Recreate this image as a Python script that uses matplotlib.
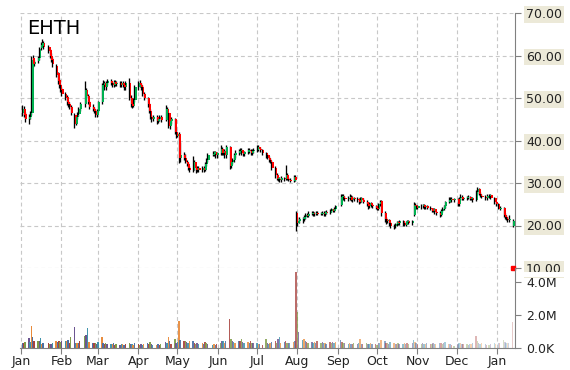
import numpy as np
import pandas as pd
import matplotlib
matplotlib.use("Agg")
import matplotlib.pyplot as plt
import matplotlib.dates as mdates
from matplotlib.colors import to_rgba
from matplotlib.patches import Rectangle

ticker = "EHTH"
holidays = ["2019-01-21", "2019-02-18", "2019-04-19", "2019-05-27", "2019-07-04",
            "2019-09-02", "2019-11-28", "2019-12-25", "2020-01-01"]

# daily prices, one row per week
open_ = [46.5, 47.5, 46.2,
         45.0, 45.5, 46.5, 59.5, 58.0,
         58.8, 59.5, 61.8, 62.3, 63.0,
         62.0, 61.2, 60.0, 59.2,
         57.5, 55.8, 54.2, 53.0, 52.2,
         51.0, 50.2, 49.0, 48.6, 48.0,
         46.0, 44.0, 45.5, 46.2, 47.5,
         48.5, 51.8, 50.5, 49.0,
         48.0, 47.5, 47.0, 46.0, 47.0,
         49.0, 53.0, 53.5, 52.5, 53.5,
         54.0, 53.5, 53.0, 53.8, 53.2,
         53.5, 53.0, 53.5, 53.0, 52.5,
         53.5, 50.0, 48.5, 48.2, 49.5,
         52.5, 53.5, 53.0, 52.5, 51.0,
         50.0, 48.5, 47.0, 45.5, 45.0,
         45.5, 44.5, 45.0, 45.5,
         44.8, 47.5, 46.5, 43.5, 44.5,
         45.0, 42.0, 41.0, 41.5, 36.0,
         36.5, 36.0, 35.0, 34.5, 33.5,
         33.0, 35.0, 33.5, 33.0, 33.5,
         33.0, 33.5, 33.0, 34.5, 35.5,
         36.5, 36.8, 37.2, 36.5,
         37.0, 38.0, 37.0, 37.5, 36.5,
         38.5, 34.0, 35.0, 35.5, 36.5,
         37.0, 37.5, 37.8, 37.0, 36.8,
         37.2, 37.8, 37.5, 37.0, 37.5,
         37.8, 38.5, 38.0, 37.8,
         37.0, 36.5, 36.0, 35.5, 35.0,
         33.5, 32.0, 31.0, 31.0, 30.8,
         31.2, 31.0, 32.0, 31.0, 30.8,
         30.5, 31.5, 23.0, 20.5, 21.0,
         21.5, 21.5, 22.0, 22.5, 22.3,
         22.8, 23.0, 22.6, 22.8, 23.0,
         22.7, 22.8, 23.0, 22.6, 23.2,
         23.0, 23.5, 23.8, 23.5, 24.0,
         24.8, 26.8, 27.0, 26.5,
         26.2, 26.5, 26.8, 26.0, 26.5,
         26.2, 26.0, 25.5, 26.5, 26.0,
         25.5, 25.0, 24.5, 25.2, 24.8,
         24.5, 24.2, 24.0, 25.0, 25.8,
         23.0, 21.5, 21.0, 21.3, 20.5,
         20.0, 19.8, 20.3, 20.8, 20.5,
         21.0, 20.5, 20.2, 20.8, 21.0,
         20.6, 22.5, 24.8, 24.5, 24.2,
         24.6, 24.5, 24.8, 24.3, 24.6,
         24.2, 24.0, 23.5, 23.8, 23.2,
         23.0, 22.5, 23.5, 24.0, 24.5,
         25.5, 26.0, 26.3, 26.0,
         26.2, 25.0, 26.5, 26.8, 26.3,
         26.5, 26.6, 26.8, 26.3, 26.5,
         26.0, 28.0, 28.5, 27.5, 27.0,
         26.8, 26.5, 27.0, 27.2,
         26.5, 25.5, 25.0, 24.0,
         24.2, 22.5, 22.0, 21.5, 21.2,
         20.0]

high = [48.3, 48.2, 46.8,
        46.2, 47.0, 59.8, 60.2, 59.0,
        60.0, 62.0, 63.2, 63.8, 63.4,
        62.5, 61.6, 60.5, 59.6,
        58.0, 56.2, 54.6, 53.5, 52.6,
        51.5, 50.6, 49.6, 49.0, 48.4,
        46.4, 46.0, 46.8, 48.0, 49.0,
        54.0, 52.4, 50.9, 49.4,
        48.6, 48.0, 47.4, 47.4, 49.4,
        53.6, 54.2, 54.0, 54.0, 54.5,
        54.4, 54.0, 54.2, 54.2, 53.9,
        53.9, 53.9, 53.9, 53.4, 53.9,
        54.7, 50.6, 49.0, 50.0, 53.0,
        54.0, 54.2, 53.5, 53.0, 51.5,
        50.3, 48.8, 47.4, 46.0, 46.0,
        46.0, 45.4, 46.0, 46.0,
        48.4, 48.0, 46.8, 45.0, 45.5,
        45.4, 42.5, 41.8, 42.0, 39.7,
        37.4, 36.8, 35.5, 35.0, 34.0,
        36.4, 35.5, 34.0, 34.0, 33.9,
        33.9, 33.9, 35.0, 36.0, 37.0,
        37.5, 37.6, 37.6, 37.4,
        39.0, 38.4, 38.0, 37.9, 39.0,
        38.8, 35.4, 36.0, 37.0, 37.7,
        38.0, 38.2, 38.2, 37.4, 37.6,
        38.2, 38.2, 37.9, 37.9, 38.2,
        39.0, 38.9, 38.4, 37.9,
        37.4, 36.9, 36.4, 35.9, 35.4,
        33.9, 32.4, 31.5, 31.4, 31.6,
        31.5, 34.3, 32.4, 31.4, 31.2,
        31.8, 31.9, 23.3, 22.0, 21.9,
        22.0, 22.4, 22.9, 22.9, 23.3,
        23.3, 23.3, 23.1, 23.3, 23.3,
        23.1, 23.3, 23.3, 23.5, 23.6,
        23.8, 24.2, 24.0, 24.3, 24.8,
        27.3, 27.3, 27.3, 26.9,
        26.9, 27.3, 27.1, 26.9, 26.8,
        26.6, 26.4, 26.8, 26.8, 26.4,
        26.0, 25.4, 25.5, 25.5, 25.1,
        24.8, 24.5, 25.4, 26.0, 26.0,
        23.4, 22.0, 21.6, 21.6, 20.9,
        20.4, 20.6, 21.1, 21.1, 21.3,
        21.3, 20.9, 21.0, 21.3, 21.3,
        21.4, 25.6, 25.3, 24.9, 24.9,
        25.0, 25.1, 25.0, 24.9, 24.8,
        24.5, 24.2, 24.1, 24.1, 23.5,
        23.4, 23.8, 24.3, 24.8, 25.8,
        26.8, 26.6, 26.6, 26.5,
        26.5, 26.8, 27.3, 27.2, 26.8,
        26.9, 27.2, 27.0, 26.8, 26.8,
        28.4, 29.0, 28.8, 27.9, 27.3,
        27.2, 27.3, 27.5, 27.4,
        26.6, 25.8, 25.2, 24.5,
        24.4, 23.0, 22.4, 22.0, 22.5,
        21.5]

low = [45.8, 45.5, 44.3,
       43.8, 45.0, 46.0, 57.2, 57.5,
       58.2, 59.0, 61.2, 62.0, 61.5,
       60.5, 59.5, 58.4, 57.3,
       55.0, 53.4, 52.4, 51.4, 50.5,
       49.5, 48.4, 48.0, 47.4, 46.0,
       43.0, 43.6, 45.0, 45.8, 47.0,
       48.0, 50.0, 48.5, 47.5,
       47.0, 46.5, 45.6, 45.6, 46.6,
       48.5, 52.5, 52.0, 52.0, 53.0,
       53.0, 52.5, 52.6, 52.8, 52.8,
       52.6, 52.6, 52.5, 52.0, 52.0,
       49.5, 48.0, 47.7, 47.8, 49.0,
       52.0, 52.6, 52.0, 50.5, 49.5,
       48.0, 46.4, 45.0, 44.4, 44.5,
       44.0, 44.2, 44.6, 44.3,
       44.5, 46.0, 43.0, 42.8, 44.0,
       41.5, 40.6, 40.8, 34.8, 35.0,
       35.4, 34.6, 34.0, 33.0, 32.5,
       32.5, 33.0, 32.4, 32.6, 32.7,
       32.6, 32.5, 32.8, 34.0, 35.0,
       36.3, 36.4, 36.0, 36.0,
       36.5, 36.6, 36.5, 36.0, 36.0,
       33.2, 33.5, 34.5, 35.0, 36.0,
       36.5, 37.0, 36.6, 36.4, 36.4,
       36.8, 37.0, 36.6, 36.6, 37.0,
       37.3, 37.5, 37.4, 36.6,
       36.0, 35.6, 35.0, 34.6, 33.0,
       31.2, 30.6, 30.4, 30.3, 30.3,
       30.4, 30.6, 30.6, 30.4, 30.2,
       30.2, 30.4, 18.6, 20.0, 20.5,
       20.6, 21.0, 21.6, 21.9, 22.0,
       22.4, 22.2, 22.3, 22.4, 22.4,
       22.4, 22.4, 22.3, 22.3, 22.6,
       22.7, 23.2, 23.1, 23.2, 23.8,
       24.5, 26.3, 26.0, 25.7,
       25.8, 26.0, 25.7, 25.6, 25.8,
       25.6, 25.0, 25.2, 25.6, 25.2,
       24.5, 24.0, 24.2, 24.4, 24.1,
       23.8, 23.7, 23.7, 24.6, 22.2,
       20.9, 20.4, 20.6, 20.0, 19.5,
       19.1, 19.3, 20.0, 20.2, 20.2,
       20.0, 19.8, 19.9, 20.4, 20.3,
       20.2, 22.3, 24.1, 23.9, 23.9,
       24.0, 24.1, 24.0, 24.0, 23.8,
       23.6, 23.1, 23.2, 22.8, 22.5,
       21.9, 22.2, 23.2, 23.6, 24.2,
       25.2, 25.6, 25.6, 25.5,
       24.5, 24.7, 26.0, 26.0, 26.0,
       26.1, 26.3, 26.0, 26.0, 25.6,
       25.7, 27.3, 27.2, 26.8, 26.4,
       26.1, 26.1, 26.4, 26.2,
       25.1, 24.6, 23.8, 23.6,
       21.9, 21.6, 21.2, 20.9, 20.9,
       19.6]

close = [47.5, 46.0, 45.0,
         45.5, 46.5, 59.0, 58.0, 58.5,
         59.5, 61.5, 62.5, 63.0, 62.0,
         61.0, 60.0, 59.0, 58.0,
         55.5, 54.0, 53.0, 52.0, 51.0,
         50.0, 49.0, 48.5, 48.0, 46.5,
         44.0, 45.5, 46.0, 47.5, 48.5,
         52.0, 50.5, 49.0, 48.0,
         47.5, 47.0, 46.0, 47.0, 49.0,
         53.0, 53.5, 52.5, 53.5, 54.0,
         53.5, 53.0, 53.8, 53.2, 53.5,
         53.0, 53.5, 53.0, 52.5, 53.5,
         50.0, 48.5, 48.2, 49.5, 52.5,
         53.5, 53.0, 52.5, 51.0, 50.0,
         48.5, 47.0, 45.5, 45.0, 45.5,
         44.5, 45.0, 45.5, 44.8,
         47.5, 46.5, 43.5, 44.5, 45.0,
         42.0, 41.0, 41.5, 36.0, 36.5,
         36.0, 35.0, 34.5, 33.5, 33.0,
         35.0, 33.5, 33.0, 33.5, 33.0,
         33.5, 33.0, 34.5, 35.5, 36.5,
         36.8, 37.2, 36.5, 37.0,
         38.0, 37.0, 37.5, 36.5, 38.5,
         34.0, 35.0, 35.5, 36.5, 37.0,
         37.5, 37.8, 37.0, 36.8, 37.2,
         37.8, 37.5, 37.0, 37.5, 37.8,
         38.5, 38.0, 37.8, 37.0,
         36.5, 36.0, 35.5, 35.0, 33.5,
         32.0, 31.0, 31.0, 30.8, 31.2,
         31.0, 32.0, 31.0, 30.8, 30.5,
         31.5, 30.8, 20.5, 21.0, 21.5,
         21.5, 22.0, 22.5, 22.3, 22.8,
         23.0, 22.6, 22.8, 23.0, 22.7,
         22.8, 23.0, 22.6, 23.2, 23.0,
         23.5, 23.8, 23.5, 24.0, 24.5,
         26.8, 27.0, 26.5, 26.2,
         26.5, 26.8, 26.0, 26.5, 26.2,
         26.0, 25.5, 26.5, 26.0, 25.5,
         25.0, 24.5, 25.2, 24.8, 24.5,
         24.2, 24.0, 25.0, 25.5, 23.0,
         21.5, 21.0, 21.3, 20.5, 20.0,
         19.8, 20.3, 20.8, 20.5, 21.0,
         20.5, 20.2, 20.8, 21.0, 20.6,
         21.0, 24.8, 24.5, 24.2, 24.6,
         24.5, 24.8, 24.3, 24.6, 24.2,
         24.0, 23.5, 23.8, 23.2, 23.0,
         22.5, 23.5, 24.0, 24.5, 25.5,
         26.0, 26.3, 26.0, 26.2,
         25.0, 26.5, 26.8, 26.3, 26.5,
         26.6, 26.8, 26.3, 26.5, 26.0,
         28.0, 28.5, 27.5, 27.0, 26.8,
         26.5, 27.0, 27.2, 26.5,
         25.5, 25.0, 24.0, 24.2,
         22.5, 22.0, 21.5, 21.2, 21.6,
         21.0]

# volume in millions
volume = [0.32, 0.30, 0.35,
          0.62, 0.34, 1.33, 0.67, 0.40,
          0.40, 0.40, 0.60, 0.25, 0.30,
          0.30, 0.25, 0.25, 0.28,
          0.40, 0.38, 0.45, 0.35, 0.40,
          0.45, 0.40, 0.50, 0.30, 0.67,
          1.30, 0.30, 0.32, 0.28, 0.40,
          0.70, 0.80, 1.23, 0.35,
          0.30, 0.28, 0.30, 0.25, 0.35,
          0.67, 0.30, 0.25, 0.30, 0.22,
          0.25, 0.22, 0.28, 0.20, 0.25,
          0.18, 0.22, 0.25, 0.20, 0.22,
          0.30, 0.25, 0.22, 0.20, 0.28,
          0.25, 0.20, 0.22, 0.18, 0.25,
          0.30, 0.25, 0.35, 0.22, 0.20,
          0.18, 0.25, 0.20, 0.22,
          0.35, 0.30, 0.65, 0.40, 0.25,
          0.55, 0.30, 0.35, 1.62, 0.50,
          0.45, 0.40, 0.35, 0.30, 0.45,
          0.40, 0.30, 0.25, 0.30, 0.22,
          0.30, 0.25, 0.35, 0.30, 0.25,
          0.20, 0.22, 0.18, 0.25,
          0.30, 0.45, 0.40, 0.28, 0.45,
          1.78, 0.55, 0.40, 0.35, 0.30,
          0.45, 0.40, 0.55, 0.35, 0.30,
          0.35, 0.30, 0.40, 0.28, 0.30,
          0.30, 0.25, 0.22, 0.20,
          0.55, 0.30, 0.25, 0.30, 0.35,
          0.40, 0.30, 0.55, 0.65, 0.30,
          0.35, 0.40, 0.30, 0.28, 0.30,
          0.35, 0.40, 4.60, 2.20, 0.95,
          0.50, 0.55, 0.40, 0.35, 0.30,
          0.38, 0.30, 0.35, 0.28, 0.40,
          0.30, 0.35, 0.28, 0.32, 0.25,
          0.35, 0.30, 0.38, 0.30, 0.35,
          0.50, 0.35, 0.30, 0.28,
          0.25, 0.30, 0.22, 0.25, 0.28,
          0.25, 0.30, 0.55, 0.25, 0.22,
          0.28, 0.22, 0.25, 0.30, 0.22,
          0.25, 0.20, 0.28, 0.30, 0.50,
          0.40, 0.30, 0.28, 0.25, 0.35,
          0.30, 0.25, 0.22, 0.28, 0.25,
          0.22, 0.28, 0.25, 0.30, 0.22,
          0.28, 0.50, 0.35, 0.30, 0.25,
          0.25, 0.28, 0.22, 0.25, 0.30,
          0.22, 0.25, 0.28, 0.22, 0.25,
          0.30, 0.28, 0.25, 0.30, 0.35,
          0.25, 0.22, 0.20, 0.15,
          0.25, 0.30, 0.28, 0.22, 0.25,
          0.22, 0.20, 0.25, 0.22, 0.28,
          0.70, 0.45, 0.30, 0.25, 0.28,
          0.22, 0.18, 0.20, 0.25,
          0.28, 0.25, 0.30, 0.28,
          0.50, 0.35, 0.30, 0.28, 0.30,
          1.60]

price_ticks = [10, 20, 30, 40, 50, 60, 70]
vol_ticks = [0, 2e6, 4e6]
vol_labels = ["0.0K", "2.0M", "4.0M"]
vol_palette = ["#4A6FA5", "#A8423E", "#7F9C48", "#6A5490", "#3E93AB", "#E88A3A"]

o = np.array(open_)
h = np.array(high)
l = np.array(low)
c = np.array(close)
v = np.array(volume) * 1e6
n = len(c)

dates = pd.bdate_range("2019-01-02", periods=n, freq="C", holidays=holidays)
x = mdates.date2num(dates)
months = pd.date_range("2019-01-01", "2020-01-01", freq="MS")
t0 = mdates.date2num(pd.Timestamp("2019-01-01"))

W, H = 570, 370
def box(left, top, right, bottom):
    return [left / W, 1 - bottom / H, (right - left) / W, (bottom - top) / H]

fig = plt.figure(figsize=(5.7, 3.7), dpi=100)
ax = fig.add_axes(box(20, 13, 515, 268))
axv = fig.add_axes(box(20, 268, 515, 348), sharex=ax)
axv.set_facecolor("none")

grid_kw = dict(color="#c8c8c8", linestyle=(0, (3.5, 2.7)), linewidth=0.8)
grey = "#808080"

# candles: black wick, coloured body just right of it
up = c >= o
body_col = np.where(up, "#00B050", "#FF0000")
body_h = np.maximum(np.abs(c - o), 0.2)
ax.vlines(x, l, h, color="black", linewidth=0.95, zorder=2)
ax.bar(x + 0.35, body_h, bottom=np.minimum(o, c), width=1.3, align="edge",
       color=body_col, linewidth=0, zorder=3)
ax.plot([x[-1]], [10], "s", color="red", ms=2.5, clip_on=False, zorder=6)

ax.set_xlim(t0 - 0.77, t0 + 378.8)
ax.set_ylim(10, 70)
ax.set_yticks(price_ticks)
ax.set_yticklabels([f"{p:.2f}" for p in price_ticks])
ax.yaxis.tick_right()
ax.grid(True, **grid_kw)
ax.set_axisbelow(True)
for s in ["top", "left", "bottom"]:
    ax.spines[s].set_visible(False)
ax.spines["right"].set_color(grey)
ax.tick_params(axis="x", length=0, labelbottom=False)
ax.tick_params(axis="y", length=4, width=0.8, color=grey, pad=4,
               labelsize=9, labelcolor="#222222")
for lbl in ax.get_yticklabels():
    lbl.set_bbox(dict(boxstyle="square,pad=0.15", fc="#ECE9D8", ec="none"))

# volume
frac = np.arange(n) / (n - 1)
alphas = 1 - 0.72 * frac ** 2
vcols = [to_rgba(vol_palette[i % 6], alphas[i]) for i in range(n)]
axv.bar(x, v, width=1.1, color=vcols, linewidth=0, zorder=2)
axv.set_ylim(0, 4.85e6)
axv.set_yticks(vol_ticks)
axv.set_yticklabels(vol_labels)
axv.yaxis.tick_right()
axv.set_xticks(mdates.date2num(months))
axv.set_xticklabels([m.strftime("%b") for m in months])
axv.grid(True, axis="x", **grid_kw)
axv.set_axisbelow(True)
for s in ["top", "left"]:
    axv.spines[s].set_visible(False)
axv.spines["right"].set_color(grey)
axv.spines["bottom"].set_color(grey)
axv.tick_params(axis="y", length=4, width=0.8, color=grey, pad=4,
                labelsize=9, labelcolor="#222222")
axv.tick_params(axis="x", length=4, width=0.8, color=grey, pad=1,
                labelsize=9, labelcolor="#222222")
# white strip hiding the bottom of the 10.00 label
axv.add_patch(Rectangle((1.004, 0.885), 0.2, 0.065, transform=axv.transAxes,
                        fc="white", ec="none", clip_on=False, zorder=1))

fig.text(27 / W, 1 - 29 / H, ticker, fontsize=14, ha="left", va="center")

fig.savefig("out.png", dpi=100)
